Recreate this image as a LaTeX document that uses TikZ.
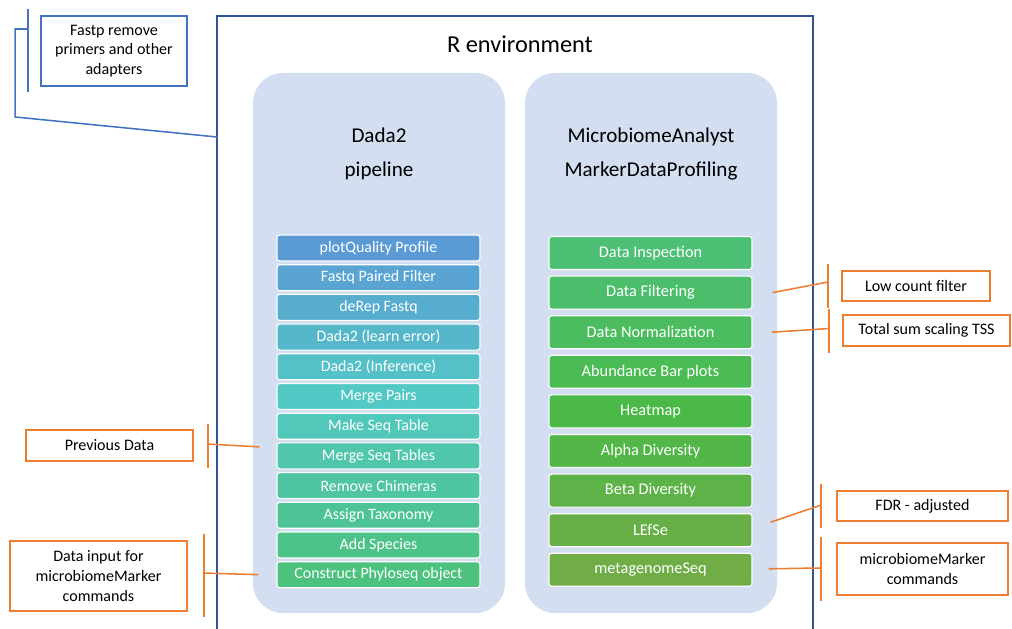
\documentclass[tikz,border=0pt]{standalone}
\usepackage{fontspec}
\setmainfont{Carlito}
\usepackage{xcolor}
\usepackage{pgf,tikz}

\definecolor{frameblue}{HTML}{2F5597}
\definecolor{lineblue}{HTML}{4472C4}
\definecolor{callout}{HTML}{ED7D31}
\definecolor{panelbg}{HTML}{D3DEF0}
\definecolor{stepblue}{HTML}{5B9BD5}
\definecolor{stepteal}{HTML}{52C9C4}
\definecolor{stepgreen}{HTML}{4CC27E}
\definecolor{toolgreen}{HTML}{4DC076}
\definecolor{toolmid}{HTML}{4AB948}
\definecolor{toololive}{HTML}{70AD47}

\tikzset{
  panel/.style={fill=panelbg, draw=none, rounded corners=0.75cm, minimum width=6.3cm, minimum height=13.5cm},
  dadabox/.style={draw=white, line width=0.8pt, rounded corners=2pt, minimum width=5.075cm, minimum height=0.65cm, inner sep=0pt, text=white, font=\fontsize{11.3}{13}\selectfont},
  mabox/.style={dadabox, minimum height=0.825cm, font=\fontsize{11.6}{13}\selectfont},
  note/.style={draw=callout, line width=1.1pt, fill=white, align=center, inner sep=0pt, font=\fontsize{11.4}{14}\selectfont},
  bracket/.style={callout, line width=1.1pt},
}

\begin{document}
\begin{tikzpicture}[x=0.025cm, y=-0.025cm]
  \useasboundingbox (0,0) rectangle (1012,629);

  % R environment frame
  \draw[frameblue, line width=1.1pt] (217,640) -- (217,16) -- (813,16) -- (813,640);
  \coordinate (env-in) at (217,137);
  \node[font=\fontsize{17.3}{20}\selectfont] (title) at (520,44) {R environment};

  % two panels
  \node[panel] (dada) at (379,343) {};
  \node[panel] (mas) at (651,343) {};
  \node[align=center, font=\fontsize{15}{24}\selectfont] (dadatitle) at (379,154) {Dada2\\pipeline};
  \node[align=center, font=\fontsize{15}{24}\selectfont] (mastitle) at (651,154) {MicrobiomeAnalyst\\MarkerDataProfiling};

  % dada2 steps
  \foreach \lbl [count=\i] in {plotQuality Profile, Fastq Paired Filter, deRep Fastq, Dada2 (learn error), Dada2 (Inference), Merge Pairs, Make Seq Table, Merge Seq Tables, Remove Chimeras, Assign Taxonomy, Add Species, Construct Phyloseq object}{
    \ifnum\i<7
      \pgfmathtruncatemacro{\p}{(\i-1)*20}
      \colorlet{boxfill}{stepteal!\p!stepblue}
    \else
      \pgfmathtruncatemacro{\p}{(\i-6)*100/6}
      \colorlet{boxfill}{stepgreen!\p!stepteal}
    \fi
    \node[dadabox, fill=boxfill] (d\i) at (378.5, {248+(\i-1)*29.7}) {\lbl};
  }

  % microbiomeanalyst steps
  \foreach \lbl [count=\i] in {Data Inspection, Data Filtering, Data Normalization, Abundance Bar plots, Heatmap, Alpha Diversity, Beta Diversity, LEfSe, metagenomeSeq}{
    \ifnum\i<6
      \pgfmathtruncatemacro{\p}{(\i-1)*25}
      \colorlet{boxfill}{toolmid!\p!toolgreen}
    \else
      \pgfmathtruncatemacro{\p}{(\i-5)*25}
      \colorlet{boxfill}{toololive!\p!toolmid}
    \fi
    \node[mabox, fill=boxfill] (m\i) at (650.5, {253+(\i-1)*39.6}) {\lbl};
  }

  % fastp note
  \node[note, draw=lineblue, minimum width=3.65cm, minimum height=1.75cm] (fastp) at (114,51) {Fastp remove\\primers and other\\adapters};
  \draw[lineblue, line width=1.1pt] ([shift={(-12,-42)}]fastp.west) -- ([shift={(-12,41)}]fastp.west);
  \draw[lineblue, line width=1.1pt] ([shift={(-12,-22)}]fastp.west) -- ++(-13,0) -- ++(0,88) -- (env-in);

  % left notes
  \node[note, minimum width=4.175cm, minimum height=0.775cm] (prev) at (109.5,445.5) {Previous Data};
  \draw[bracket] ([shift={(14,-22)}]prev.east) -- ([shift={(14,22)}]prev.east);
  \draw[bracket] ([shift={(14,-1.5)}]prev.east) -- ([shift={(-17,-9)}]d8.west);

  \node[note, minimum width=4.425cm, minimum height=1.75cm] (datain) at (98.5,576) {Data input for\\microbiomeMarker\\commands};
  \draw[bracket] ([shift={(16,-42)}]datain.east) -- ([shift={(16,41)}]datain.east);
  \draw[bracket] ([shift={(16,-3)}]datain.east) -- ([shift={(-18,0)}]d12.west);

  % right notes
  \node[note, minimum width=3.7cm, minimum height=0.75cm] (lowcount) at (916,286) {Low count filter};
  \draw[bracket] ([shift={(-13,-22)}]lowcount.west) -- ([shift={(-13,22)}]lowcount.west);
  \draw[bracket] ([xshift=0.5cm]m2.east) -- ([shift={(-13,-4)}]lowcount.west);

  \node[note, minimum width=4.175cm, minimum height=0.775cm] (tss) at (926.5,330.5) {Total sum scaling TSS};
  \draw[bracket] ([shift={(-13,-22)}]tss.west) -- ([shift={(-13,22)}]tss.west);
  \draw[bracket] ([xshift=0.475cm]m3.east) -- ([shift={(-13,-2)}]tss.west);

  \node[note, minimum width=4.275cm, minimum height=0.75cm] (fdr) at (922.5,506) {FDR - adjusted};
  \draw[bracket] ([shift={(-15,-22)}]fdr.west) -- ([shift={(-15,22)}]fdr.west);
  \draw[bracket] ([shift={(18,-8)}]m8.east) -- ([shift={(-15,-1)}]fdr.west);

  \node[note, minimum width=4.275cm, minimum height=1.3cm] (mmarker) at (922.5,569) {microbiomeMarker\\commands};
  \draw[bracket] ([shift={(-15,-32)}]mmarker.west) -- ([shift={(-15,32)}]mmarker.west);
  \draw[bracket] ([shift={(16,-1)}]m9.east) -- ([shift={(-15,-1)}]mmarker.west);
\end{tikzpicture}
\end{document}
